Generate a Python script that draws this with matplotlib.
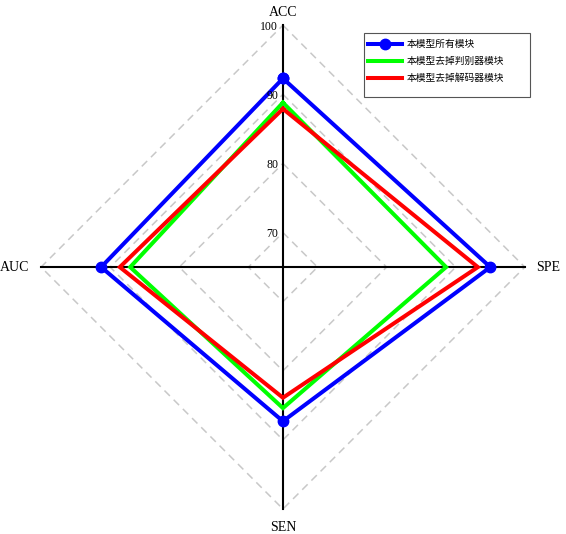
import numpy as np
import matplotlib
matplotlib.use("Agg")
import matplotlib.pyplot as plt
from matplotlib.patches import Rectangle

plt.rcParams['font.family'] = ['Liberation Serif', 'Noto Sans CJK SC', 'DejaVu Sans']

# radar data, clockwise from top
categories = ['ACC', 'SPE', 'SEN', 'AUC']
full_model = [92.3, 95.0, 87.3, 91.3]
no_discriminator = [88.8, 88.6, 85.4, 87.1]
no_decoder = [87.9, 93.2, 83.9, 88.6]
series_names = ['本模型所有模块', '本模型去掉判别器模块', '本模型去掉解码器模块']
grid_levels = [70, 80, 90, 100]
r_min, r_max = 65, 100

W, H = 566, 534
fig = plt.figure(figsize=(W / 100, H / 100), dpi=100)
ax = fig.add_axes([0.0724, 0.0468, 0.855, 0.906], projection='polar')
ax.set_theta_zero_location('N')
ax.set_theta_direction(-1)
ax.set_ylim(r_min, r_max)
ax.grid(False)
ax.spines['polar'].set_visible(False)
ax.set_xticks([])
ax.set_yticks([])

angles = np.linspace(0, 2 * np.pi, len(categories), endpoint=False)
closed = np.append(angles, angles[0])

# diamond grid
for lvl in grid_levels:
    ax.plot(closed, [lvl] * len(closed), color='#c8c8c8', lw=1.1,
            linestyle=(0, (5, 3.5)), zorder=1, clip_on=False)

# black axis lines
for a in angles:
    ax.plot([a, a], [r_min, r_max], color='black', lw=1.5, zorder=2, clip_on=False)

# tick labels along ACC axis
for lvl in grid_levels:
    ax.annotate(str(lvl), xy=(0, lvl), xytext=(-3.5, -1), textcoords='offset points',
                ha='right', va='center', fontsize=8.5, zorder=5)

# category labels
ax.text(angles[0], 101.9, categories[0], ha='center', va='center', fontsize=10)
ax.text(angles[1], 101.6, categories[1], ha='left', va='center', fontsize=10)
ax.text(angles[2], 102.7, categories[2], ha='center', va='center', fontsize=10)
ax.text(angles[3], 101.7, categories[3], ha='right', va='center', fontsize=10)

def close(vals):
    return list(vals) + [vals[0]]

ax.plot(closed, close(full_model), color='#0000ff', lw=2.9, marker='o', markersize=7.5,
        solid_joinstyle='miter', label=series_names[0], zorder=3, clip_on=False)
ax.plot(closed, close(no_discriminator), color='#00ff00', lw=2.9,
        solid_joinstyle='miter', label=series_names[1], zorder=3, clip_on=False)
ax.plot(closed, close(no_decoder), color='#ff0000', lw=2.9,
        solid_joinstyle='miter', label=series_names[2], zorder=3, clip_on=False)

# legend without frame, box drawn separately (wide right margin like the original)
leg = fig.legend(loc='upper left', bbox_to_anchor=(368 / W, 1 - 40 / H),
                 fontsize=7, frameon=False, handlelength=3.5, handletextpad=0.5,
                 borderaxespad=0, labelspacing=0.8, borderpad=0)
fig.add_artist(Rectangle((364 / W, 1 - 97 / H), 166 / W, 64 / H,
                         transform=fig.transFigure, fill=False,
                         edgecolor='#555555', lw=0.8))

fig.savefig('out.png', dpi=100)
